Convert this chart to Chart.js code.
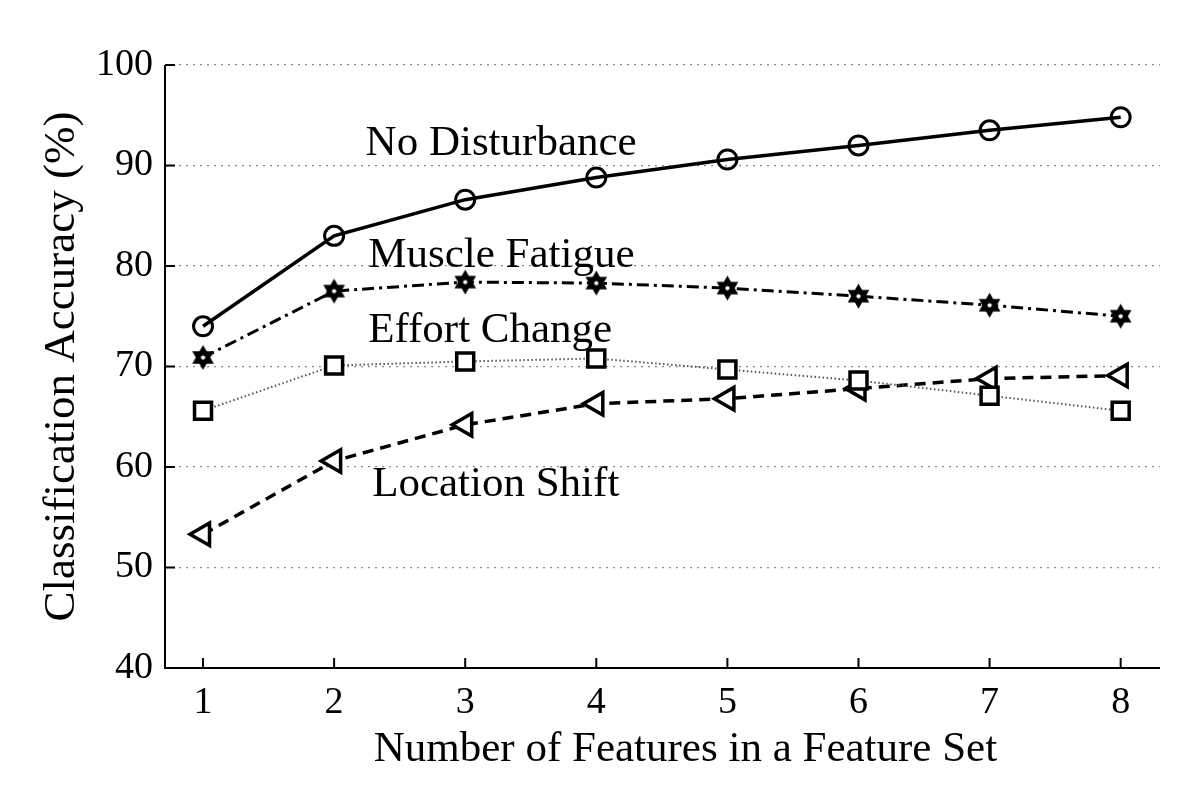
<!DOCTYPE html>
<html>
<head>
<meta charset="utf-8">
<script src="https://cdn.jsdelivr.net/npm/chart.js@4/dist/chart.umd.min.js"></script>
<style>
  html, body { margin: 0; padding: 0; background: #fff; }
  #wrap { width: 1200px; height: 803px; }
</style>
</head>
<body>
<div id="wrap"><canvas id="accChart" width="1200" height="803"></canvas></div>
<script>
const featureCounts = [1, 2, 3, 4, 5, 6, 7, 8];
const noDisturbance = [74.0, 83.0, 86.6, 88.8, 90.6, 92.0, 93.5, 94.8];
const muscleFatigue = [70.9, 77.5, 78.4, 78.3, 77.8, 77.0, 76.1, 75.0];
const effortChange = [65.6, 70.1, 70.5, 70.8, 69.7, 68.6, 67.1, 65.6];
const locationShift = [53.3, 60.6, 64.2, 66.3, 66.8, 67.8, 68.8, 69.1];
const yTicks = [40, 50, 60, 70, 80, 90, 100];
const seriesNames = ['No Disturbance', 'Muscle Fatigue', 'Effort Change', 'Location Shift'];
const xTitle = 'Number of Features in a Feature Set';

const FONT = '"Liberation Serif", "Times New Roman", serif';

// 六芒星 marker
function makeHexagram(size) {
  const c = document.createElement('canvas');
  c.width = size; c.height = size;
  const g = c.getContext('2d');
  const cx = size / 2, cy = size / 2, r = size / 2 - 1;
  g.fillStyle = '#000';
  for (let k = 0; k < 2; k++) {
    g.beginPath();
    for (let i = 0; i < 3; i++) {
      const a = -Math.PI / 2 + k * Math.PI + i * 2 * Math.PI / 3;
      const px = cx + r * Math.cos(a), py = cy + r * Math.sin(a);
      if (i === 0) g.moveTo(px, py); else g.lineTo(px, py);
    }
    g.closePath();
    g.fill();
  }
  g.fillStyle = '#fff';
  g.beginPath();
  g.arc(cx, cy, r * 0.17, 0, Math.PI * 2);
  g.fill();
  return c;
}

const toXY = vals => vals.map((v, i) => ({ x: featureCounts[i], y: v }));

// series text labels, x title, inward ticks
const extras = {
  id: 'extras',
  afterDraw(chart) {
    const { ctx, scales: { x, y } } = chart;
    ctx.save();
    ctx.strokeStyle = '#000';
    ctx.lineWidth = 2;
    ctx.beginPath();
    featureCounts.forEach(v => {
      const px = x.getPixelForValue(v);
      ctx.moveTo(px, y.bottom);
      ctx.lineTo(px, y.bottom - 10);
    });
    yTicks.forEach(v => {
      const py = y.getPixelForValue(v);
      ctx.moveTo(x.left, py);
      ctx.lineTo(x.left + 10, py);
    });
    // axis lines
    ctx.moveTo(x.left, y.top);
    ctx.lineTo(x.left, y.bottom);
    ctx.lineTo(x.right, y.bottom);
    ctx.stroke();

    ctx.fillStyle = '#000';
    ctx.font = '43px ' + FONT;
    ctx.textAlign = 'left';
    ctx.textBaseline = 'middle';
    const spots = [[2.24, 92.2], [2.26, 81.0], [2.26, 73.6], [2.29, 58.2]];
    seriesNames.forEach((name, i) => {
      ctx.fillText(name, x.getPixelForValue(spots[i][0]), y.getPixelForValue(spots[i][1]));
    });

    ctx.textAlign = 'center';
    ctx.fillText(xTitle, x.getPixelForValue(4.68), y.bottom + 82);
    ctx.restore();
  }
};

const ctx = document.getElementById('accChart').getContext('2d');
const accChart = new Chart(ctx, {
  type: 'line',
  data: {
    datasets: [
      {
        label: seriesNames[0],
        data: toXY(noDisturbance),
        borderColor: '#000',
        borderWidth: 3.5,
        pointStyle: 'circle',
        pointRadius: 9.5,
        pointBorderWidth: 3,
        pointBackgroundColor: 'rgba(255,255,255,0)',
        pointBorderColor: '#000'
      },
      {
        label: seriesNames[1],
        data: toXY(muscleFatigue),
        borderColor: '#000',
        borderWidth: 3,
        borderDash: [12, 5, 3, 5],
        pointStyle: makeHexagram(27),
        pointRadius: 13
      },
      {
        label: seriesNames[2],
        data: toXY(effortChange),
        borderColor: '#555',
        borderWidth: 2,
        borderDash: [1.5, 2.5],
        pointStyle: 'rect',
        pointRadius: 12,
        pointBorderWidth: 3.5,
        pointBackgroundColor: '#fff',
        pointBorderColor: '#000'
      },
      {
        label: seriesNames[3],
        data: toXY(locationShift),
        borderColor: '#000',
        borderWidth: 3.5,
        borderDash: [11, 7],
        pointStyle: 'triangle',
        pointRotation: 270,
        pointRadius: 13,
        pointBorderWidth: 3.5,
        pointBackgroundColor: '#fff',
        pointBorderColor: '#000'
      }
    ]
  },
  options: {
    responsive: false,
    animation: false,
    layout: { padding: { top: 65, right: 40, left: 0, bottom: 0 } },
    plugins: { legend: { display: false }, tooltip: { enabled: false } },
    scales: {
      x: {
        type: 'linear',
        min: 0.71,
        max: 8.3,
        afterBuildTicks: s => { s.ticks = featureCounts.map(v => ({ value: v })); },
        afterFit: s => { s.height = 135; },
        grid: { display: false, drawTicks: false },
        border: { display: false },
        ticks: { color: '#000', font: { family: FONT, size: 38 }, padding: 12 }
      },
      y: {
        min: 40,
        max: 100,
        afterBuildTicks: s => { s.ticks = yTicks.map(v => ({ value: v })); },
        afterFit: s => { s.width = 165; },
        grid: {
          drawTicks: false,
          color: c => (c.tick && c.tick.value === 40 ? 'rgba(0,0,0,0)' : '#8a8a8a'),
          lineWidth: 1.3
        },
        border: { display: false, dash: [2, 5] },
        ticks: { color: '#000', font: { family: FONT, size: 38 }, padding: 12 },
        title: {
          display: true,
          text: 'Classification Accuracy (%)',
          color: '#000',
          font: { family: FONT, size: 45 },
          padding: { top: 35, bottom: 0 }
        }
      }
    }
  },
  plugins: [extras]
});
</script>
</body>
</html>
